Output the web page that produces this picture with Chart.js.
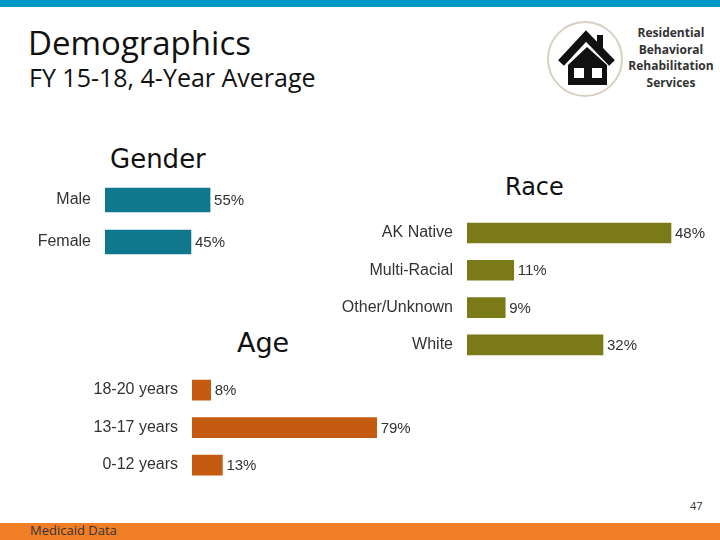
<!DOCTYPE html>
<html>
<head>
<meta charset="utf-8">
<script src="https://cdn.jsdelivr.net/npm/chart.js@4.4.1/dist/chart.umd.min.js"></script>
<style>
  body { margin: 0; background: #fff; }
  #slide { position: relative; width: 720px; height: 540px; overflow: hidden; background: #fff; font-family: 'Open Sans', sans-serif; }
  .abs { position: absolute; white-space: nowrap; }
  #topbar { left: 0; top: 0; width: 720px; height: 7px; background: #0099C6; }
  #bottombar { left: 0; top: 523px; width: 720px; height: 17px; background: #F07E26; }
  #title { left: 28px; top: 26px; font-size: 33px; line-height: 33px; color: #111; }
  #subtitle { left: 29px; top: 65px; font-size: 25px; line-height: 25px; color: #111; }
  .sec { font-family: 'DejaVu Sans', sans-serif; color: #111; }
  #logoText { left: 625px; top: 25px; width: 92px; text-align: center; font-size: 12px; line-height: 16.5px; font-weight: bold; color: #333; white-space: normal; }
  #footer { left: 30px; top: 524px; font-size: 13px; line-height: 13px; color: #333; }
  #pagenum { left: 690px; top: 500px; font-size: 11px; line-height: 11px; color: #333; }
  canvas { position: absolute; }
</style>
</head>
<body>
<div id="slide">
  <div id="topbar" class="abs"></div>
  <div id="title" class="abs">Demographics</div>
  <div id="subtitle" class="abs">FY 15-18, 4-Year Average</div>

  <svg class="abs" style="left:545px; top:18px" width="80" height="80" viewBox="0 0 80 80">
    <circle cx="40" cy="41" r="37" fill="#fff" stroke="#d8d0c2" stroke-width="2"/>
    <rect x="52" y="17" width="6" height="16" fill="#111"/>
    <polyline points="16,45 41,18 67,45" fill="none" stroke="#111" stroke-width="8" stroke-linejoin="miter"/>
    <polygon points="23,67 23,47 42,29 62,47 62,67" fill="#111"/>
    <rect x="29" y="50" width="10" height="10" fill="#fff"/>
    <rect x="47" y="50" width="10" height="10" fill="#fff"/>
  </svg>
  <div id="logoText" class="abs">Residential Behavioral Rehabilitation Services</div>

  <div class="abs sec" style="left:110px; top:146px; font-size:26px; line-height:26px;">Gender</div>
  <div class="abs sec" style="left:505px; top:175px; font-size:24px; line-height:24px;">Race</div>
  <div class="abs sec" style="left:237px; top:329px; font-size:27px; line-height:27px;">Age</div>

  <canvas id="gender" width="300" height="100" style="left:0; top:170px"></canvas>
  <canvas id="race" width="390" height="170" style="left:330px; top:200px"></canvas>
  <canvas id="age" width="360" height="130" style="left:60px; top:360px"></canvas>

  <div id="pagenum" class="abs">47</div>
  <div id="bottombar" class="abs"></div>
  <div id="footer" class="abs">Medicaid Data</div>
</div>

<script>
// data
const genderLabels = ['Male', 'Female'];
const genderValues = [55, 45];

const raceLabels = ['AK Native', 'Multi-Racial', 'Other/Unknown', 'White'];
const raceValues = [48, 11, 9, 32];

const ageLabels = ['18-20 years', '13-17 years', '0-12 years'];
const ageValues = [8, 79, 13];

const labelFont = '"Liberation Sans", Arial, sans-serif';

const valueLabels = {
  id: 'valueLabels',
  afterDatasetsDraw(chart) {
    const { ctx } = chart;
    const meta = chart.getDatasetMeta(0);
    ctx.save();
    ctx.font = '15px ' + labelFont;
    ctx.fillStyle = '#333';
    ctx.textBaseline = 'middle';
    meta.data.forEach((bar, i) => {
      ctx.fillText(chart.data.datasets[0].data[i] + '%', bar.x + 4, bar.y + 1);
    });
    ctx.restore();
  }
};

function makeBar(id, labels, values, color, max, yWidth, thickness, padding) {
  return new Chart(document.getElementById(id), {
    type: 'bar',
    data: {
      labels: labels,
      datasets: [{
        data: values,
        backgroundColor: color,
        barThickness: thickness,
      }],
    },
    options: {
      indexAxis: 'y',
      responsive: false,
      animation: false,
      devicePixelRatio: 1,
      layout: { padding: padding },
      plugins: {
        legend: { display: false },
        tooltip: { enabled: false }
      },
      scales: {
        x: {
          display: false,
          min: 0,
          max: max
        },
        y: {
          grid: { display: false, drawTicks: false },
          border: { display: false },
          ticks: {
            padding: 14,
            color: '#333',
            font: { family: labelFont, size: 16 }
          },
          afterFit: (scale) => {
            scale.width = yWidth;
            // keep the label padding from pushing the bars inward
            scale.paddingTop = 0;
            scale.paddingBottom = 0;
          }
        }
      }
    },
    plugins: [valueLabels]
  });
}

makeBar('gender', genderLabels, genderValues, '#10788C', 100, 105, 24,
  { top: 9, bottom: 7, right: 4, left: 0 });
makeBar('race', raceLabels, raceValues, '#7A7A18', 50, 137, 20,
  { top: 14.3, bottom: 6.4, right: 40.5, left: 0 });
makeBar('age', ageLabels, ageValues, '#C55A11', 80, 132, 20,
  { top: 11.3, bottom: 6.2, right: 41, left: 0 });
</script>
</body>
</html>
